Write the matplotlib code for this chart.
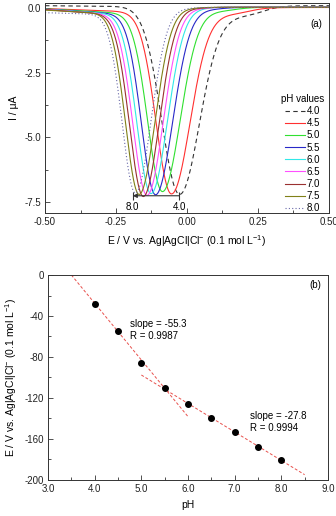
import numpy as np
import matplotlib.pyplot as plt
from matplotlib.ticker import MultipleLocator

plt.rcParams['font.family'] = ['Liberation Sans', 'DejaVu Sans']
plt.rcParams['axes.unicode_minus'] = False
plt.rcParams['mathtext.default'] = 'regular'

# pH values and peak potentials (mV), shared by both panels
ph = [4.0, 4.5, 5.0, 5.5, 6.0, 6.5, 7.0, 7.5, 8.0]
ep_mv = [-28, -55, -86, -110, -126, -140, -153, -168, -181]

# voltammogram shape
ip = [-7.05, -6.95, -6.88, -7.02, -7.0, -7.05, -7.1, -7.05, -7.0]
sig_left = [0.062, 0.054, 0.052, 0.05, 0.05, 0.05, 0.049, 0.048, 0.047]
sig_right = [0.07, 0.065, 0.062, 0.06, 0.058, 0.057, 0.056, 0.056, 0.055]
base_start = [0.09, -0.02, -0.03, -0.04, -0.05, -0.05, -0.06, -0.08, -0.18]
base_slope = [-0.1, -0.4, -0.6, -0.7, -0.7, -0.8, -0.8, -0.6, -0.3]
base_end = [0.09, 0.02, 0.03, 0.03, 0.04, 0.03, 0.03, 0.03, 0.03]
shoulder = [-0.42, -0.28, -0.17, -0.1, -0.06, -0.06, -0.05, -0.05, -0.05]
shoulder_end = [0.27, 0.22, 0.17, 0.12, 0.08, 0.06, 0.05, 0.03, 0.02]

colors = ['#333333', '#ff3030', '#30e030', '#2828c8', '#30e8e8',
          '#ff50ff', '#9a3030', '#808018', '#6868a8']
styles = [(0, (4, 3)), '-', '-', '-', '-', '-', '-', '-', (0, (1, 2))]

# linear fits, panel (b)
fit1 = dict(slope=-55.3, icept=193.6, x0=3.5, x1=6.0)
fit2 = dict(slope=-27.8, icept=41.4, x0=5.0, x1=8.5)


def wave(E, ep, i_p, sl, sr, b0, k, b1, sa, se):
    s = np.where(E < ep, sl, sr)
    peak = i_p * np.exp(-0.5 * ((E - ep) / s) ** 2)
    step = 1 / (1 + np.exp(-(E - ep) / 0.03))
    base = (b0 + k * (E + 0.5)) * (1 - step) + b1 * step
    sh = sa * step / (1 + np.exp((E - se) / 0.03))
    return peak + base + sh


fig = plt.figure(figsize=(3.36, 5.16), dpi=100)
ax1 = fig.add_axes([0.134, 0.587, 0.845, 0.407])
ax2 = fig.add_axes([0.143, 0.070, 0.833, 0.397])

E = np.linspace(-0.5, 0.5, 800)
for n in range(len(ph)):
    cur = wave(E, ep_mv[n] / 1000, ip[n], sig_left[n], sig_right[n],
               base_start[n], base_slope[n], base_end[n],
               shoulder[n], shoulder_end[n])
    ax1.plot(E, cur, color=colors[n], ls=styles[n], lw=0.8,
             label='%.1f' % ph[n])

# arrow between pH 8.0 and pH 4.0 peaks
e_lo = ep_mv[-1] / 1000 - 0.01
e_hi = ep_mv[0] / 1000
ax1.annotate('', xy=(e_lo, -7.25), xytext=(e_hi, -7.25),
             arrowprops=dict(arrowstyle='-|>', color='#333333', lw=0.8,
                             mutation_scale=6, shrinkA=0, shrinkB=0))
ax1.plot([e_lo, e_hi], [-7.25, -7.25], ls='none', marker='|', ms=6,
         mew=0.8, color='#333333')
ax1.text(e_lo, -7.68, '8.0', ha='center', va='center', fontsize=7)
ax1.text(e_hi, -7.68, '4.0', ha='center', va='center', fontsize=7)
ax1.text(0.455, -0.6, '(a)', ha='center', va='center', fontsize=7)

ax1.set_xlim(-0.5, 0.5)
ax1.set_ylim(-7.92, 0.19)
ax1.xaxis.set_major_locator(MultipleLocator(0.25))
ax1.xaxis.set_minor_locator(MultipleLocator(0.125))
ax1.yaxis.set_major_locator(MultipleLocator(2.5))
ax1.yaxis.set_minor_locator(MultipleLocator(1.25))
ax1.xaxis.set_major_formatter(lambda v, p: '%.2f' % v)
ax1.yaxis.set_major_formatter(lambda v, p: '%.1f' % v)
ax1.set_xlabel('E / V vs. Ag|AgCl|Cl$^{-}$ (0.1 mol L$^{-1}$)', fontsize=7.5,
               labelpad=4)
ax1.set_ylabel('I / μA', fontsize=7.5, labelpad=4)

leg = ax1.legend(title='pH values', loc='lower right',
                 bbox_to_anchor=(0.99, -0.01), frameon=False, fontsize=7,
                 title_fontsize=7, handlelength=2.0, handletextpad=0.2,
                 labelspacing=0.22, borderaxespad=0, borderpad=0.2)

# panel (b)
ax2.plot(ph, ep_mv, 'o', color='black', ms=4, zorder=3)
for f in (fit1, fit2):
    xs = np.array([f['x0'], f['x1']])
    ax2.plot(xs, f['slope'] * xs + f['icept'], color='#e8504c', lw=0.7,
             ls=(0, (3, 2)))
ax2.text(4.76, -43, 'slope = %.1f\nR = 0.9987' % fit1['slope'], fontsize=7,
         va='top', ha='left', linespacing=1.25)
ax2.text(7.33, -133, 'slope = %.1f\nR = 0.9994' % fit2['slope'], fontsize=7,
         va='top', ha='left', linespacing=1.25)
ax2.text(8.72, -9.8, '(b)', ha='center', va='center', fontsize=7)

ax2.set_xlim(3.0, 9.0)
ax2.set_ylim(-200, 0)
ax2.xaxis.set_major_locator(MultipleLocator(1.0))
ax2.xaxis.set_minor_locator(MultipleLocator(0.5))
ax2.yaxis.set_major_locator(MultipleLocator(40))
ax2.yaxis.set_minor_locator(MultipleLocator(20))
ax2.xaxis.set_major_formatter(lambda v, p: '%.1f' % v)
ax2.set_xlabel('pH', fontsize=7.5, labelpad=4)
ax2.set_ylabel('E / V vs. Ag|AgCl|Cl$^{-}$ (0.1 mol L$^{-1}$)', fontsize=7.5,
               labelpad=4)

for ax in (ax1, ax2):
    ax.tick_params(which='both', direction='in', labelsize=7, pad=3,
                   color='#333333', labelcolor='#222222')
    ax.tick_params(which='major', length=3.5, width=0.6)
    ax.tick_params(which='minor', length=2, width=0.6)
    for sp in ax.spines.values():
        sp.set_linewidth(0.7)
        sp.set_color('#333333')

fig.savefig('out.png', dpi=100)
